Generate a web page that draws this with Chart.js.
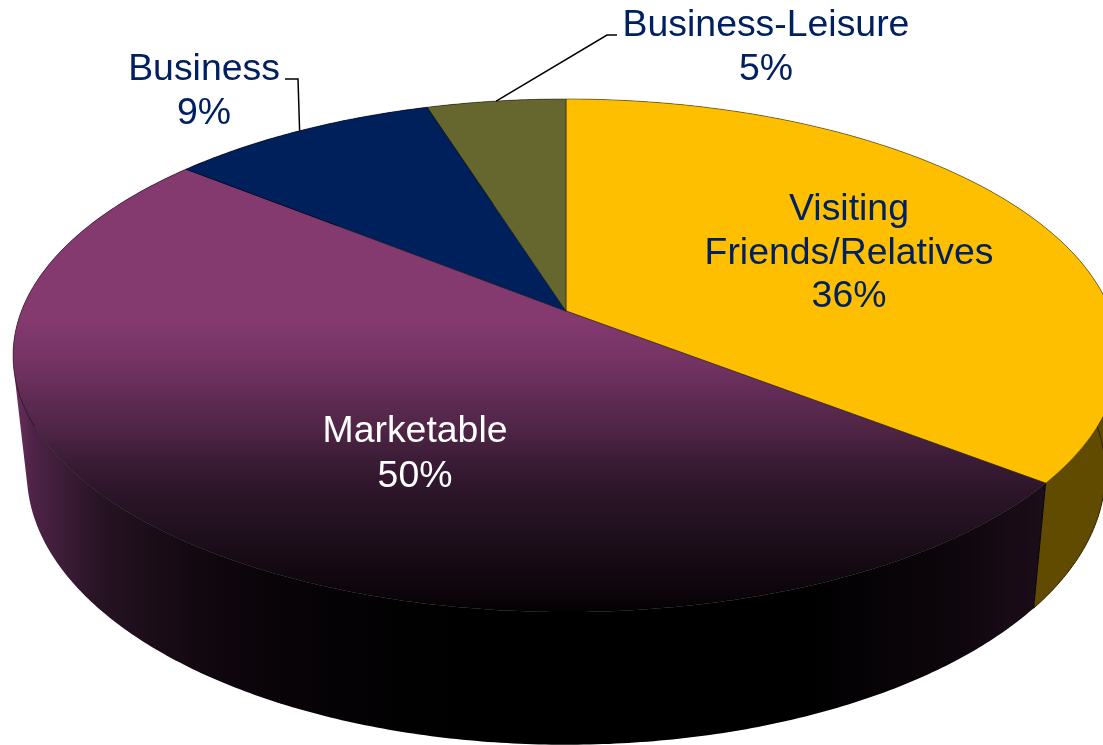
<!DOCTYPE html>
<html>
<head>
<meta charset="utf-8">
<style>html,body{margin:0;padding:0;background:#fff;overflow:hidden}canvas{display:block}</style>
<script src="https://cdn.jsdelivr.net/npm/chart.js@4"></script>
</head>
<body>
<canvas id="c" width="1103" height="745"></canvas>
<script>
const categories = ["Visiting\nFriends/Relatives", "Marketable", "Business", "Business-Leisure"];
const shares = [35.6, 50.3, 9.3, 4.8];
const faceColors = ["#FDBF00", "#84396F", "#00205C", "#66662F"];
const wallColors = ["#614B00", "#3A1A33", "#00102E", "#333318"];
const labelColors = ["#002060", "#FFFFFF", "#002060", "#002060"];

// perspective view of the disc
const view = {cx:566, cy:311, A:544.6, B:248.8, k:0.1735, baseScaleX:0.975, baseScaleY:1.06, baseShiftY:96};
function topPoint(a, r){
  const x = r*Math.cos(a), y = r*Math.sin(a), w = 1 - view.k*y;
  return [view.cx + view.A*x/w, view.cy + view.B*y/w];
}
function basePoint(a){
  const p = topPoint(a, 1);
  return [view.cx + (p[0]-view.cx)*view.baseScaleX, p[1]*view.baseScaleY + view.baseShiftY];
}
function arcSteps(s, e){ return Math.max(8, Math.ceil((e-s)/0.01)); }

const labelLayout = [
  {x:849, y:220, lh:43.5},
  {x:415, y:442, lh:45},
  {x:204, y:80,  lh:44},
  {x:766, y:36,  lh:44}
];
const leaders = [
  null, null,
  {index:2, from:[285,79], elbow:[298,79], frac:0.5},
  {index:3, from:[617,35], elbow:[607,35], frac:0.5}
];
const faceShade = [[0,'#84396F'],[0.147,'#743363'],[0.264,'#5F2B54'],[0.377,'#4F2545'],[0.49,'#391B35'],[0.606,'#2A1427'],[0.72,'#20101E'],[0.832,'#150A13'],[0.925,'#0E050C'],[1,'#040103']];
const wallShade = [[13,'#6E3060'],[33,'#4D2347'],[67,'#3A1B35'],[100,'#271323'],[133,'#1F0F1C'],[200,'#120810'],[267,'#0A0409'],[300,'#070307'],[400,'#020102'],[500,'#000000'],[800,'#000000'],[950,'#0D060C'],[1040,'#1C0D19']];

function wallPath(ctx, s, e){
  const n = arcSteps(s,e);
  ctx.beginPath();
  for(let j=0;j<n;j++){
    const a = s+(e-s)*j/n, b = s+(e-s)*(j+1)/n;
    let q = [topPoint(a,1), topPoint(b,1), basePoint(b), basePoint(a)];
    let area = 0;
    q.forEach((p,m)=>{ const r = q[(m+1)%4]; area += p[0]*r[1]-r[0]*p[1]; });
    if(area<0) q.reverse();
    ctx.moveTo(q[0][0],q[0][1]);
    for(let m=1;m<4;m++) ctx.lineTo(q[m][0],q[m][1]);
    ctx.closePath();
  }
}

const disc3d = {
  id:'disc3d',
  beforeDatasetsDraw(chart){
    const ctx = chart.ctx, arcs = chart.getDatasetMeta(0).data;
    ctx.save();
    ctx.lineJoin = 'round';
    // walls
    arcs.forEach((arc,i)=>{
      wallPath(ctx, arc.startAngle, arc.endAngle);
      if(i===1){
        const g = ctx.createLinearGradient(13,0,1040,0);
        wallShade.forEach(c=>g.addColorStop((c[0]-13)/1027,c[1]));
        ctx.fillStyle = g;
      } else ctx.fillStyle = wallColors[i];
      ctx.fill();
    });
    // yellow outer wall outline and the seam between yellow and purple
    const yellow = arcs[0];
    ctx.strokeStyle = '#2a2000'; ctx.lineWidth = 1;
    ctx.beginPath();
    const e0 = yellow.endAngle, st = -0.2;
    for(let j=0;j<=60;j++){ const p = basePoint(st+(e0-st)*j/60); j?ctx.lineTo(p[0],p[1]):ctx.moveTo(p[0],p[1]); }
    ctx.stroke();
    const a0 = topPoint(e0,1), b0 = basePoint(e0);
    ctx.strokeStyle = '#000'; ctx.beginPath(); ctx.moveTo(a0[0],a0[1]); ctx.lineTo(b0[0],b0[1]); ctx.stroke();
    // top faces
    arcs.forEach((arc,i)=>{
      const s = arc.startAngle, e = arc.endAngle, n = arcSteps(s,e);
      ctx.beginPath();
      ctx.moveTo(view.cx, view.cy);
      for(let j=0;j<=n;j++){ const p = topPoint(s+(e-s)*j/n,1); ctx.lineTo(p[0],p[1]); }
      ctx.closePath();
      if(i===1){
        const g = ctx.createLinearGradient(0,320,0,612);
        faceShade.forEach(c=>g.addColorStop(c[0],c[1]));
        ctx.fillStyle = g;
      } else ctx.fillStyle = arc.options.backgroundColor;
      ctx.fill();
      ctx.strokeStyle = 'rgba(0,0,0,0.55)';
      ctx.lineWidth = 0.8;
      ctx.stroke();
    });
    ctx.restore();
    return false;
  },
  afterDraw(chart){
    const ctx = chart.ctx, arcs = chart.getDatasetMeta(0).data;
    ctx.save();
    // leader lines
    ctx.strokeStyle = '#000'; ctx.lineWidth = 1.5;
    leaders.forEach(l=>{
      if(!l) return;
      const a = arcs[l.index];
      const p = topPoint(a.startAngle+(a.endAngle-a.startAngle)*l.frac,1);
      ctx.beginPath(); ctx.moveTo(l.from[0],l.from[1]); ctx.lineTo(l.elbow[0],l.elbow[1]); ctx.lineTo(p[0],p[1]); ctx.stroke();
    });
    // labels
    ctx.font = '37.4px "Liberation Sans", Arial, sans-serif';
    ctx.textAlign = 'center'; ctx.textBaseline = 'alphabetic';
    categories.forEach((name,i)=>{
      const lines = name.split('\n').concat(Math.round(shares[i])+'%');
      const L = labelLayout[i];
      ctx.fillStyle = labelColors[i];
      lines.forEach((t,j)=>ctx.fillText(t, L.x, L.y + j*L.lh));
    });
    ctx.restore();
  }
};

new Chart(document.getElementById('c'), {
  type:'pie',
  data:{labels:categories, datasets:[{data:shares, backgroundColor:faceColors, borderWidth:0}]},
  options:{
    responsive:false, animation:false,
    events:[],
    plugins:{legend:{display:false}, tooltip:{enabled:false}}
  },
  plugins:[disc3d]
});
</script>
</body>
</html>
